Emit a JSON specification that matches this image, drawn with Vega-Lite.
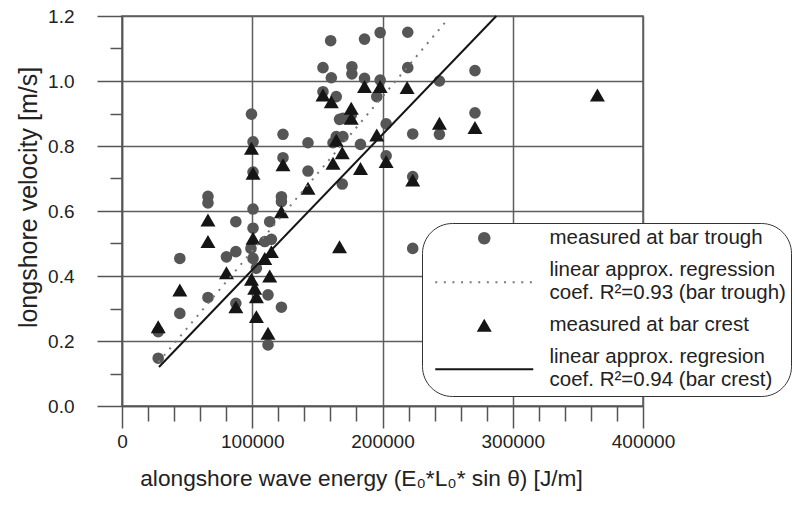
{
  "$schema": "https://vega.github.io/schema/vega-lite/v6.json",
  "width": 521,
  "height": 390,
  "autosize": {"type": "none"},
  "padding": {"left": 122, "top": 16, "right": 152, "bottom": 100},
  "background": "white",
  "config": {"font": "Liberation Sans", "view": {"stroke": "#5e5e5e", "strokeWidth": 1.5}},
  "datasets": {
    "trough": [
      {"E": 27800, "v": 0.147}, {"E": 27800, "v": 0.229}, {"E": 44400, "v": 0.454}, {"E": 44400, "v": 0.285},
      {"E": 66000, "v": 0.645}, {"E": 66000, "v": 0.625}, {"E": 66000, "v": 0.334}, {"E": 80200, "v": 0.459},
      {"E": 87400, "v": 0.567}, {"E": 87400, "v": 0.475}, {"E": 87400, "v": 0.316}, {"E": 99000, "v": 0.485},
      {"E": 100600, "v": 0.454}, {"E": 103200, "v": 0.424}, {"E": 99400, "v": 0.898}, {"E": 100600, "v": 0.813},
      {"E": 100600, "v": 0.72}, {"E": 100600, "v": 0.606}, {"E": 100600, "v": 0.547}, {"E": 109600, "v": 0.506},
      {"E": 114700, "v": 0.513}, {"E": 113400, "v": 0.567}, {"E": 112100, "v": 0.342}, {"E": 112100, "v": 0.188},
      {"E": 122400, "v": 0.304}, {"E": 123600, "v": 0.836}, {"E": 123600, "v": 0.764}, {"E": 122400, "v": 0.644},
      {"E": 122400, "v": 0.629}, {"E": 142800, "v": 0.81}, {"E": 142800, "v": 0.723}, {"E": 160200, "v": 1.124},
      {"E": 154300, "v": 1.041}, {"E": 160700, "v": 1.01}, {"E": 154300, "v": 0.967}, {"E": 164500, "v": 0.952},
      {"E": 167000, "v": 0.882}, {"E": 164500, "v": 0.829}, {"E": 169600, "v": 0.829}, {"E": 162000, "v": 0.81},
      {"E": 169100, "v": 0.683}, {"E": 176500, "v": 1.044}, {"E": 176500, "v": 1.022}, {"E": 176000, "v": 0.895},
      {"E": 169600, "v": 0.885}, {"E": 183100, "v": 0.805}, {"E": 186200, "v": 1.129}, {"E": 186200, "v": 1.008},
      {"E": 198200, "v": 1.149}, {"E": 198200, "v": 1.003}, {"E": 195600, "v": 0.952}, {"E": 202800, "v": 0.868},
      {"E": 202800, "v": 0.77}, {"E": 219400, "v": 1.15}, {"E": 219400, "v": 1.041}, {"E": 223200, "v": 0.837},
      {"E": 223200, "v": 0.706}, {"E": 223200, "v": 0.485}, {"E": 243700, "v": 1.0}, {"E": 243700, "v": 0.836},
      {"E": 271000, "v": 1.032}, {"E": 271000, "v": 0.902}
    ],
    "crest": [
      {"E": 27800, "v": 0.244}, {"E": 44400, "v": 0.357}, {"E": 66000, "v": 0.572}, {"E": 66000, "v": 0.506},
      {"E": 80200, "v": 0.41}, {"E": 87400, "v": 0.305}, {"E": 99400, "v": 0.793}, {"E": 100600, "v": 0.716},
      {"E": 122400, "v": 0.598}, {"E": 123600, "v": 0.742}, {"E": 142800, "v": 0.67}, {"E": 100600, "v": 0.516},
      {"E": 114700, "v": 0.475}, {"E": 109600, "v": 0.454}, {"E": 113400, "v": 0.4}, {"E": 99400, "v": 0.39},
      {"E": 101900, "v": 0.362}, {"E": 103200, "v": 0.336}, {"E": 103200, "v": 0.275}, {"E": 112100, "v": 0.224},
      {"E": 154300, "v": 0.957}, {"E": 160700, "v": 0.936}, {"E": 162000, "v": 0.747}, {"E": 176000, "v": 0.916},
      {"E": 176000, "v": 0.885}, {"E": 186200, "v": 0.983}, {"E": 198200, "v": 0.983}, {"E": 218900, "v": 0.98},
      {"E": 195600, "v": 0.834}, {"E": 164500, "v": 0.818}, {"E": 169100, "v": 0.779}, {"E": 183100, "v": 0.731},
      {"E": 202800, "v": 0.752}, {"E": 223200, "v": 0.695}, {"E": 243700, "v": 0.87}, {"E": 271000, "v": 0.857},
      {"E": 365000, "v": 0.957}, {"E": 167000, "v": 0.49}
    ],
    "fitTrough": [{"E": 28000, "v": 0.135}, {"E": 248000, "v": 1.18}],
    "fitCrest": [{"E": 28400, "v": 0.12}, {"E": 287400, "v": 1.2}],
    "legendEntries": [
      {"s": "measured at bar trough"},
      {"s": "regression trough"},
      {"s": "measured at bar crest"},
      {"s": "regression crest"}
    ]
  },
  "layer": [
    {
      "data": {"name": "trough"},
      "mark": {"type": "point", "shape": "circle", "filled": true, "opacity": 1, "color": "#565656", "size": 135, "strokeWidth": 0},
      "encoding": {
        "x": {
          "field": "E", "type": "quantitative",
          "scale": {"domain": [0, 400000], "nice": false, "zero": false},
          "axis": {
            "orient": "bottom", "tickCount": 100,
            "values": [0, 20000, 40000, 60000, 80000, 100000, 120000, 140000, 160000, 180000, 200000, 220000, 240000, 260000, 280000, 300000, 320000, 340000, 360000, 380000, 400000],
            "labelExpr": "datum.value % 100000 === 0 ? format(datum.value, 'd') : ''",
            "grid": true, "gridColor": "#5e5e5e", "gridWidth": 1.5,
            "gridOpacity": {"condition": {"test": "datum.value % 100000 === 0", "value": 1}, "value": 0},
            "domainColor": "#555555", "domainWidth": 1.5,
            "tickColor": "#555555", "tickWidth": 1.5, "tickSize": 22,
            "tickDash": {"condition": {"test": "datum.value % 100000 !== 0", "value": [15, 60]}, "value": [100, 1]},
            "labelFontSize": 19, "labelColor": "#222222", "labelPadding": 4,
            "labelFlush": false, "labelOverlap": false,
            "title": "alongshore wave energy (E₀*L₀* sin θ) [J/m]",
            "titleFontSize": 22.7, "titleFontWeight": "normal", "titleColor": "#222222",
            "titleX": 239, "titleY": 79, "titleBaseline": "alphabetic", "titleAlign": "center"
          }
        },
        "y": {
          "field": "v", "type": "quantitative",
          "scale": {"domain": [0, 1.2], "nice": false, "zero": false},
          "axis": {
            "orient": "left", "tickCount": 100,
            "values": [0, 0.1, 0.2, 0.3, 0.4, 0.5, 0.6, 0.7, 0.8, 0.9, 1.0, 1.1, 1.2],
            "labelExpr": "abs(datum.value * 5 - round(datum.value * 5)) < 0.01 ? format(datum.value, '.1f') : ''",
            "grid": true, "gridColor": "#5e5e5e", "gridWidth": 1.5,
            "gridOpacity": {"condition": {"test": "abs(datum.value * 5 - round(datum.value * 5)) < 0.01", "value": 1}, "value": 0},
            "domainColor": "#555555", "domainWidth": 1.5,
            "tickColor": "#555555", "tickWidth": 1.5, "tickSize": 25,
            "tickDash": {"condition": {"test": "abs(datum.value * 5 - round(datum.value * 5)) >= 0.01", "value": [12, 60]}, "value": [100, 1]},
            "labelFontSize": 19, "labelColor": "#222222", "labelPadding": 23,
            "labelFlush": false, "labelOverlap": false,
            "title": "longshore velocity [m/s]",
            "titleFontSize": 25, "titleFontWeight": "normal", "titleColor": "#222222",
            "titleX": -94, "titleY": 181, "titleAngle": 270, "titleBaseline": "middle", "titleAlign": "center"
          }
        }
      }
    },
    {
      "data": {"name": "crest"},
      "mark": {"type": "point", "shape": "triangle-up", "filled": true, "opacity": 1, "color": "#151515", "size": 225, "strokeWidth": 0},
      "encoding": {
        "x": {"field": "E", "type": "quantitative"},
        "y": {"field": "v", "type": "quantitative"}
      }
    },
    {
      "data": {"name": "fitTrough"},
      "mark": {"type": "line", "color": "#7a7a7a", "strokeWidth": 2, "strokeDash": [2, 6.5]},
      "encoding": {
        "x": {"field": "E", "type": "quantitative"},
        "y": {"field": "v", "type": "quantitative"}
      }
    },
    {
      "data": {"name": "fitCrest"},
      "mark": {"type": "line", "color": "#151515", "strokeWidth": 2},
      "encoding": {
        "x": {"field": "E", "type": "quantitative"},
        "y": {"field": "v", "type": "quantitative"}
      }
    },
    {
      "data": {"name": "legendEntries"},
      "mark": {"type": "point", "filled": true, "opacity": 0, "size": 16, "strokeWidth": 0},
      "encoding": {
        "color": {
          "field": "s", "type": "nominal",
          "scale": {
            "domain": ["measured at bar trough", "regression trough", "measured at bar crest", "regression crest"],
            "range": ["#565656", "#7a7a7a", "#151515", "#151515"]
          }
        },
        "shape": {
          "field": "s", "type": "nominal",
          "scale": {
            "domain": ["measured at bar trough", "regression trough", "measured at bar crest", "regression crest"],
            "range": [
              "M26.6,0A3.1,3.1,0,1,1,20.4,0A3.1,3.1,0,1,1,26.6,0Z",
              "M-1,5.5h1v1h-1ZM3.3,5.5h1v1h-1ZM7.6,5.5h1v1h-1ZM11.9,5.5h1v1h-1ZM16.2,5.5h1v1h-1ZM20.5,5.5h1v1h-1ZM24.8,5.5h1v1h-1ZM29.1,5.5h1v1h-1ZM33.4,5.5h1v1h-1ZM37.7,5.5h1v1h-1ZM42,5.5h1v1h-1ZM46.3,5.5h1v1h-1Z",
              "M23.5,-3.25L27.25,3.25L19.75,3.25Z",
              "M-1,5.5H48V6.5H-1Z"
            ]
          },
          "legend": {
            "title": null, "orient": "none", "legendX": 300, "legendY": 207, "direction": "vertical",
            "padding": 5, "cornerRadius": 30, "strokeColor": "#333333", "fillColor": "white",
            "labelFont": "Liberation Sans", "labelFontSize": 20.5, "labelColor": "#222222",
            "labelLimit": 0, "labelOffset": 102, "rowPadding": 11,
            "symbolSize": 16, "symbolStrokeWidth": 0, "symbolOpacity": 1,
            "labelExpr": "datum.value == 'regression trough' ? ['linear approx. regression', 'coef. R²=0.93 (bar trough)'] : datum.value == 'regression crest' ? ['linear approx. regresion', 'coef. R²=0.94 (bar crest)'] : datum.label"
          }
        }
      }
    }
  ]
}
